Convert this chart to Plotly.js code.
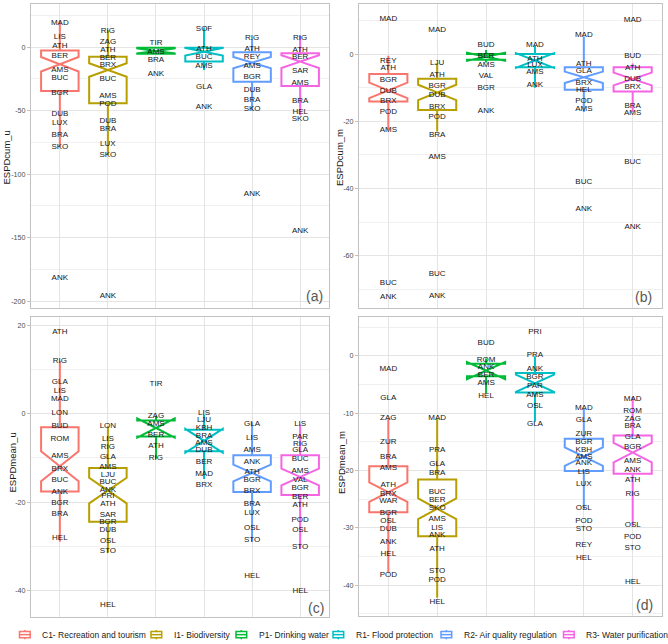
<!DOCTYPE html>
<html>
<head>
<meta charset="utf-8">
<script src="https://cdn.plot.ly/plotly-3.0.1.min.js"></script>
<style>
  html, body { margin: 0; padding: 0; background: #ffffff; }
  #chart { width: 668px; height: 644px; }
</style>
</head>
<body>
<div id="chart"></div>
<script>
// Ecosystem-service codes, legend names and colours
const services = ['C1', 'I1', 'P1', 'R1', 'R2', 'R3'];
const serviceNames = ['C1- Recreation and tourism', 'I1- Biodiversity', 'P1- Drinking water',
                      'R1- Flood protection', 'R2- Air quality regulation', 'R3- Water purification'];
const serviceColors = ['#F8766D', '#B79F00', '#00BA38', '#00BFC4', '#619CFF', '#F564E3'];

// ---------- (a) ESPDcum_u ----------
const cumUCity  = ['MAD','LIS','ATH','BER','AMS','BUC','BGR','DUB','LUX','BRA','SKO','ANK',
                   'RIG','ZAG','ATH','BER','BRX','BUC','AMS','POD','DUB','BRA','LUX','SKO','ANK',
                   'TIR','AMS','BRA','ANK',
                   'SOF','ATH','BUC','AMS','GLA','ANK',
                   'RIG','ATH','REY','AMS','BGR','DUB','BRA','SKO','ANK',
                   'RIG','ATH','BER','SAR','AMS','BRA','HEL','SKO','ANK'];
const cumUGroup = ['C1','C1','C1','C1','C1','C1','C1','C1','C1','C1','C1','C1',
                   'I1','I1','I1','I1','I1','I1','I1','I1','I1','I1','I1','I1','I1',
                   'P1','P1','P1','P1',
                   'R1','R1','R1','R1','R1','R1',
                   'R2','R2','R2','R2','R2','R2','R2','R2','R2',
                   'R3','R3','R3','R3','R3','R3','R3','R3','R3'];
const cumUValue = [19.5, 8.4, 1.3, -6.8, -18.1, -24.5, -36.0, -52.8, -59.9, -69.4, -78.6, -182.2,
                   13.1, 3.9, -2.4, -8.1, -14.2, -24.7, -38.1, -44.7, -58.4, -64.7, -76.2, -84.9, -196.1,
                   3.7, -3.9, -10.3, -21.0,
                   14.5, -1.6, -7.9, -14.7, -31.5, -46.8,
                   7.6, -1.6, -7.9, -14.7, -23.7, -33.7, -41.5, -48.9, -115.9,
                   7.6, -2.1, -7.9, -18.4, -28.4, -42.1, -51.0, -56.3, -144.9];
const cumUQ3     = [-2.6, -7.4, -0.4, -0.3, -3.9, -4.7];
const cumUMedian = [-13.4, -17.9, -2.9, -3.5, -12.1, -11.3];
const cumUQ1     = [-34.4, -44.2, -5.2, -11.3, -27.1, -30.5];
const cumUUpper  = [20.5, 13.5, 0.0, 15.5, 6.5, 9.0];
const cumULower  = [-78.6, -85.0, -5.8, -18.0, -50.0, -53.5];
const cumUNotch  = [5.7, 5.3, 2.0, 3.0, 4.5, 5.0];
const cumUTicks  = [0, -50, -100, -150, -200];
const cumUTickText = ['0', '-50', '-100', '-150', '-200'];

// ---------- (b) ESPDcum_m ----------
const cumMCity  = ['MAD','REY','ATH','BGR','DUB','BRX','POD','AMS','BUC','ANK',
                   'MAD','LJU','ATH','BGR','DUB','BRX','POD','BRA','AMS','BUC','ANK',
                   'BUD','BER','AMS','VAL','BGR','ANK',
                   'MAD','ATH','LUX','AMS','ANK',
                   'MAD','ATH','GLA','BRX','HEL','POD','AMS','BUC','ANK',
                   'MAD','BUD','ATH','DUB','BRX','BRA','AMS','BUC','ANK'];
const cumMGroup = ['C1','C1','C1','C1','C1','C1','C1','C1','C1','C1',
                   'I1','I1','I1','I1','I1','I1','I1','I1','I1','I1','I1',
                   'P1','P1','P1','P1','P1','P1',
                   'R1','R1','R1','R1','R1',
                   'R2','R2','R2','R2','R2','R2','R2','R2','R2',
                   'R3','R3','R3','R3','R3','R3','R3','R3','R3'];
const cumMValue = [10.5, -1.9, -4.1, -7.6, -11.1, -13.9, -17.3, -22.5, -68.0, -72.1,
                   7.2, -2.7, -6.2, -9.6, -12.1, -15.6, -18.6, -24.0, -30.7, -65.4, -71.9,
                   2.6, -0.5, -3.2, -6.6, -10.1, -16.9,
                   2.8, -1.4, -3.3, -5.4, -9.1,
                   5.6, -3.0, -5.0, -8.6, -10.8, -13.9, -16.4, -38.1, -46.0,
                   10.2, -0.7, -4.0, -7.4, -9.8, -15.3, -17.6, -32.1, -51.4];
const cumMQ3     = [-5.9, -7.3, 0.0, 0.0, -3.9, -3.9];
const cumMMedian = [-10.8, -11.4, -0.8, -1.9, -6.9, -7.4];
const cumMQ1     = [-14.1, -16.6, -1.7, -3.9, -10.6, -11.1];
const cumMUpper  = [-0.5, -2.7, 1.2, 2.5, 5.2, -2.8];
const cumMLower  = [-22.5, -23.0, -2.5, -10.0, -17.2, -17.2];
const cumMNotch  = [2.3, 2.3, 1.2, 2.2, 1.7, 1.9];
const cumMTicks  = [0, -20, -40, -60];
const cumMTickText = ['0', '-20', '-40', '-60'];

// ---------- (c) ESPDmean_u ----------
const meanUCity  = ['ATH','RIG','GLA','LIS','MAD','LON','BUD','ROM','AMS','BRX','BUC','ANK','BGR','BRA','HEL',
                    'LON','LIS','RIG','GLA','AMS','LJU','BUC','ANK','PRI','ATH','SAR','BGR','DUB','OSL','STO','HEL',
                    'TIR','ZAG','AMS','BER','ATH','RIG',
                    'LIS','LJU','KBH','BRA','AMS','DUB','BER','MAD','BRX',
                    'GLA','LIS','AMS','ANK','ATH','BGR','BRX','BRA','LUX','OSL','STO','HEL',
                    'LIS','PAR','RIG','GLA','BUC','AMS','VAL','BGR','BER','ATH','POD','OSL','STO','HEL'];
const meanUGroup = ['C1','C1','C1','C1','C1','C1','C1','C1','C1','C1','C1','C1','C1','C1','C1',
                    'I1','I1','I1','I1','I1','I1','I1','I1','I1','I1','I1','I1','I1','I1','I1','I1',
                    'P1','P1','P1','P1','P1','P1',
                    'R1','R1','R1','R1','R1','R1','R1','R1','R1',
                    'R2','R2','R2','R2','R2','R2','R2','R2','R2','R2','R2','R2',
                    'R3','R3','R3','R3','R3','R3','R3','R3','R3','R3','R3','R3','R3','R3'];
const meanUValue = [18.6, 12.0, 7.3, 5.3, 3.4, 0.2, -2.8, -5.8, -9.6, -12.4, -14.9, -17.7, -20.2, -22.7, -28.2,
                    -2.7, -5.7, -7.5, -9.8, -12.0, -13.8, -15.5, -17.2, -18.7, -20.5, -23.0, -24.5, -26.3, -28.8, -31.2, -43.3,
                    6.7, -0.5, -2.4, -4.7, -7.2, -10.0,
                    0.2, -1.3, -3.2, -4.9, -6.7, -8.3, -11.0, -13.6, -16.2,
                    -2.4, -5.5, -8.3, -10.9, -13.2, -15.1, -17.5, -20.5, -22.5, -25.9, -28.7, -36.7,
                    -2.4, -5.3, -6.8, -8.3, -10.2, -13.0, -14.9, -16.8, -18.9, -20.6, -24.0, -26.4, -30.2, -40.1];
const meanUQ3     = [-3.0, -12.3, -1.5, -3.6, -9.4, -9.4];
const meanUMedian = [-11.9, -17.4, -3.2, -6.1, -13.4, -14.3];
const meanUQ1     = [-17.6, -24.5, -5.1, -8.5, -17.7, -18.4];
const meanUUpper  = [12.0, -2.8, -0.4, -0.2, -1.8, -2.4];
const meanULower  = [-29.0, -31.5, -10.2, -14.8, -29.0, -30.6];
const meanUNotch  = [3.4, 2.9, 2.2, 2.7, 1.9, 1.9];
const meanUTicks  = [20, 0, -20, -40];
const meanUTickText = ['20', '0', '-20', '-40'];

// ---------- (d) ESPDmean_m ----------
const meanMCity  = ['MAD','GLA','ZAG','ZUR','BRA','AMS','ATH','BRX','WAR','BGR','OSL','DUB','ANK','HEL','POD',
                    'MAD','PRA','GLA','BRA','BUC','BER','SKO','AMS','LIS','ANK','ATH','STO','POD','HEL',
                    'BUD','ROM','ANK','BER','AMS','HEL',
                    'PRI','PRA','ANK','BGR','PAR','AMS','OSL','GLA',
                    'MAD','GLA','ZUR','BGR','KBH','AMS','ANK','LIS','LUX','OSL','POD','STO','REY','HEL',
                    'MAD','ROM','ZAG','BRA','GLA','BGR','AMS','ANK','ATH','RIG','OSL','POD','STO','HEL'];
const meanMGroup = ['C1','C1','C1','C1','C1','C1','C1','C1','C1','C1','C1','C1','C1','C1','C1',
                    'I1','I1','I1','I1','I1','I1','I1','I1','I1','I1','I1','I1','I1','I1',
                    'P1','P1','P1','P1','P1','P1',
                    'R1','R1','R1','R1','R1','R1','R1','R1',
                    'R2','R2','R2','R2','R2','R2','R2','R2','R2','R2','R2','R2','R2','R2',
                    'R3','R3','R3','R3','R3','R3','R3','R3','R3','R3','R3','R3','R3','R3'];
const meanMValue = [-2.4, -7.4, -10.9, -15.1, -17.7, -19.6, -22.6, -24.1, -25.3, -27.4, -28.9, -30.2, -32.5, -34.6, -38.2,
                    -10.8, -16.4, -18.9, -20.5, -23.8, -25.1, -26.6, -28.4, -30.1, -31.3, -33.8, -37.6, -39.2, -43.0,
                    2.2, -0.7, -2.0, -3.4, -4.8, -7.1,
                    4.1, 0.2, -2.4, -3.8, -5.2, -6.8, -8.7, -11.9,
                    -9.2, -11.2, -13.6, -15.1, -16.4, -17.6, -18.8, -20.2, -22.3, -26.6, -28.9, -30.3, -33.1, -35.3,
                    -7.5, -9.6, -11.0, -12.3, -14.2, -15.9, -18.4, -19.9, -21.7, -24.2, -29.6, -31.7, -33.5, -39.4];
const meanMQ3     = [-19.3, -21.6, -1.4, -3.0, -14.5, -13.9];
const meanMMedian = [-23.8, -26.7, -2.6, -4.8, -17.6, -16.9];
const meanMQ1     = [-27.3, -31.5, -3.6, -6.4, -20.1, -20.6];
const meanMUpper  = [-10.9, -10.9, -0.5, -0.1, -9.2, -7.2];
const meanMLower  = [-37.8, -42.2, -6.5, -11.5, -26.8, -29.7];
const meanMNotch  = [1.7, 1.8, 1.5, 1.5, 1.6, 1.7];
const meanMTicks  = [0, -10, -20, -30, -40];
const meanMTickText = ['0', '-10', '-20', '-30', '-40'];

// ---------- page geometry (pixels) ----------
const W = 668, H = 644;
const FONT = 'Liberation Sans, Arial, Helvetica, sans-serif';
const px = v => v / W;
const py = v => 1 - v / H;

const panels = [
  { ax: '',  title: 'ESPDcum_u',  tag: '(a)', city: cumUCity, group: cumUGroup, value: cumUValue,
    q3: cumUQ3, med: cumUMedian, q1: cumUQ1, hi: cumUUpper, lo: cumULower, notch: cumUNotch,
    ticks: cumUTicks, tickText: cumUTickText, range: [-205.5, 34.1], minor: 25,
    box: [31, 329, 4, 308], titleX: 6.5, titleY: 158, tagX: 325, tagY: 296 },
  { ax: '2', title: 'ESPDcum_m',  tag: '(b)', city: cumMCity, group: cumMGroup, value: cumMValue,
    q3: cumMQ3, med: cumMMedian, q1: cumMQ1, hi: cumMUpper, lo: cumMLower, notch: cumMNotch,
    ticks: cumMTicks, tickText: cumMTickText, range: [-75.5, 14.9], minor: 10,
    box: [359, 662, 4, 308], titleX: 340, titleY: 158, tagX: 654, tagY: 296.5 },
  { ax: '3', title: 'ESPDmean_u', tag: '(c)', city: meanUCity, group: meanUGroup, value: meanUValue,
    q3: meanUQ3, med: meanUMedian, q1: meanUQ1, hi: meanUUpper, lo: meanULower, notch: meanUNotch,
    ticks: meanUTicks, tickText: meanUTickText, range: [-46.1, 22.0], minor: 10,
    box: [31, 329, 317, 617], titleX: 11.5, titleY: 463, tagX: 326, tagY: 608 },
  { ax: '4', title: 'ESPDmean_m', tag: '(d)', city: meanMCity, group: meanMGroup, value: meanMValue,
    q3: meanMQ3, med: meanMMedian, q1: meanMQ1, hi: meanMUpper, lo: meanMLower, notch: meanMNotch,
    ticks: meanMTicks, tickText: meanMTickText, range: [-45.4, 6.75], minor: 5,
    box: [359, 662, 317, 616], titleX: 341, titleY: 463, tagX: 654.5, tagY: 605 }
];

const traces = [];
const layout = {
  width: W, height: H,
  margin: { l: 0, r: 0, t: 0, b: 0, pad: 0 },
  paper_bgcolor: '#ffffff', plot_bgcolor: '#ffffff',
  showlegend: false, hovermode: false,
  font: { family: FONT, color: '#1a1a1a' },
  annotations: [], shapes: []
};

const GRID = '#E4E4E4', MINOR = '#F0F0F0', FRAME = '#C2C2C2';

panels.forEach(p => {
  const xa = 'x' + p.ax, ya = 'y' + p.ax;
  // notched boxes, one per service
  services.forEach((s, i) => {
    traces.push({
      type: 'box', xaxis: xa, yaxis: ya, name: serviceNames[i],
      x: [s], q1: [p.q1[i]], median: [p.med[i]], q3: [p.q3[i]],
      lowerfence: [p.lo[i]], upperfence: [p.hi[i]], notchspan: [p.notch[i]],
      notched: true, notchwidth: 0.5, width: 0.78, whiskerwidth: 0,
      boxpoints: false, fillcolor: '#ffffff',
      line: { color: serviceColors[i], width: 2 }
    });
  });
  // city labels placed at their values
  traces.push({
    type: 'scatter', mode: 'text', xaxis: xa, yaxis: ya,
    x: p.group, y: p.value, text: p.city,
    textposition: 'middle center',
    textfont: { family: FONT, size: 8, color: '#161616' },
    cliponaxis: false, hoverinfo: 'skip'
  });

  const [x0, x1, y0, y1] = p.box;
  layout['xaxis' + p.ax] = {
    domain: [px(x0), px(x1)], anchor: ya,
    type: 'category', categoryorder: 'array', categoryarray: services,
    range: [-0.6, 5.6], showticklabels: false, ticks: '',
    showgrid: true, gridcolor: GRID, gridwidth: 1,
    showline: true, mirror: true, linecolor: FRAME, linewidth: 1,
    zeroline: false, fixedrange: true
  };
  layout['yaxis' + p.ax] = {
    domain: [py(y1), py(y0)], anchor: xa,
    range: p.range, tickmode: 'array', tickvals: p.ticks, ticktext: p.tickText,
    ticks: 'outside', ticklen: 3, tickwidth: 1, tickcolor: FRAME,
    tickfont: { family: FONT, size: 7.2, color: '#4D4D4D' },
    showgrid: true, gridcolor: GRID, gridwidth: 1,
    minor: { tickmode: 'linear', tick0: 0, dtick: p.minor, showgrid: true, gridcolor: MINOR, gridwidth: 1, ticks: '' },
    showline: true, mirror: true, linecolor: FRAME, linewidth: 1,
    zeroline: false, fixedrange: true
  };
  layout.annotations.push({
    xref: 'paper', yref: 'paper', x: px(p.titleX), y: py(p.titleY),
    text: p.title, textangle: -90, showarrow: false,
    xanchor: 'center', yanchor: 'middle',
    font: { family: FONT, size: 9.5, color: '#1a1a1a' }
  });
  layout.annotations.push({
    xref: 'paper', yref: 'paper', x: px(p.tagX), y: py(p.tagY),
    text: p.tag, showarrow: false, xanchor: 'right', yanchor: 'middle',
    font: { family: FONT, size: 14, color: '#585858' }
  });
});

// legend row along the bottom edge
const legendLeft = [19.5, 151, 236, 333, 441, 563.5];
const swTop = 630, swBot = 639.3, swW = 10.7;
legendLeft.forEach((lx, i) => {
  const c = serviceColors[i];
  const cx = lx + swW / 2, cy = (swTop + swBot) / 2;
  layout.shapes.push({ type: 'line', xref: 'paper', yref: 'paper',
    x0: px(cx), x1: px(cx), y0: py(swTop), y1: py(swBot), line: { color: c, width: 1.5 } });
  layout.shapes.push({ type: 'rect', xref: 'paper', yref: 'paper',
    x0: px(lx), x1: px(lx + swW), y0: py(swTop + 1.6), y1: py(swBot - 1.6),
    fillcolor: '#ffffff', line: { color: c, width: 1.5 } });
  layout.shapes.push({ type: 'line', xref: 'paper', yref: 'paper',
    x0: px(lx), x1: px(lx + swW), y0: py(cy), y1: py(cy), line: { color: c, width: 1.5 } });
  layout.annotations.push({ xref: 'paper', yref: 'paper', x: px(lx + 20.5), y: py(635.2),
    text: serviceNames[i], showarrow: false, xanchor: 'left', yanchor: 'middle',
    font: { family: FONT, size: 8.5, color: '#1a1a1a' } });
});

Plotly.newPlot('chart', traces, layout, { displayModeBar: false, staticPlot: true });
</script>
</body>
</html>
